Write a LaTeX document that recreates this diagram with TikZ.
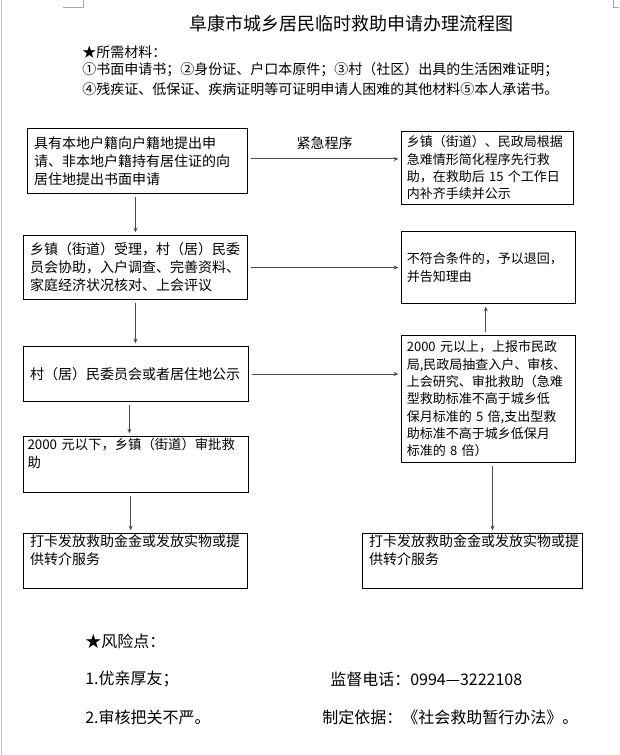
\documentclass[tikz,border=0pt]{standalone}
\usepackage{fontspec}
\setmainfont{Noto Sans CJK SC}
\usetikzlibrary{arrows.meta}

\tikzset{
  box/.style={draw, line width=0.75pt, anchor=north west, inner xsep=5pt, inner ysep=0pt,
              align=left, font=\fontsize{10.5pt}{13.5pt}\selectfont},
  rbox/.style={box, inner xsep=4pt, font=\fontsize{9.75pt}{13pt}\selectfont},
  flow/.style={draw=black!70, line width=0.75pt, shorten <=2pt, shorten >=2pt,
               -{Stealth[length=3.5pt,width=3pt]}},
  plain/.style={inner sep=0pt, anchor=west, font=\fontsize{10.5pt}{13.5pt}\selectfont},
  risk/.style={inner sep=0pt, anchor=west, font=\fontsize{12pt}{14pt}\selectfont}
}

\begin{document}
\begin{tikzpicture}[x=0.75pt, y=-0.75pt]
  \useasboundingbox (0,0) rectangle (619,755);
  \fill[white] (0,0) rectangle (619,755);

  % page edge and corner marks
  \draw[black!25, line width=0.75pt] (1.5,0) -- (1.5,755);
  \draw[black!35, line width=0.6pt] (63,7) -- (83,7) -- (83,0);
  \draw[black!35, line width=0.6pt] (613,0) -- (613,7) -- (619,7);

  % title and materials
  \node[inner sep=0pt, font=\fontsize{13.5pt}{16pt}\selectfont] (title) at (351,24)
    {阜康市城乡居民临时救助申请办理流程图};
  \node[plain] (needHead) at (82,52) {★所需材料：};
  \node[plain] (needA) at (82,70) {①书面申请书；②身份证、户口本原件；③村（社区）出具的生活困难证明；};
  \node[plain] (needB) at (82,89) {④残疾证、低保证、疾病证明等可证明申请人困难的其他材料⑤本人承诺书。};

  % left column
  \node[box, text width=155pt, minimum height=48.75pt] (b1) at (27,128)
    {具有本地户籍向户籍地提出申\\请、非本地户籍持有居住证的向\\居住地提出书面申请};
  \node[box, text width=158pt, minimum height=48pt] (b2) at (23,235)
    {乡镇（街道）受理，村（居）民委\\员会协助，入户调查、完善资料、\\家庭经济状况核对、上会评议};
  \node[box, text width=158.75pt, minimum height=41.25pt] (b3) at (23,346)
    {村（居）民委员会或者居住地公示};
  \node[box, inner xsep=3pt, text width=162.75pt, minimum height=42pt,
        font=\fontsize{10pt}{13.5pt}\selectfont] (b4) at (23,436)
    {2000~元以下，乡镇（街道）审批救\\助\\\strut};
  \node[box, text width=158pt, minimum height=41.25pt] (b5) at (23,533)
    {打卡发放救助金金或发放实物或提\\供转介服务\\\strut};

  % right column
  \node[rbox, text width=121pt, minimum height=54.75pt] (r1) at (401,131)
    {乡镇（街道）、民政局根据\\急难情形简化程序先行救\\助，在救助后 15 个工作日\\内补齐手续并公示};
  \node[rbox, text width=122.5pt, minimum height=54pt] (r2) at (401,231)
    {不符合条件的，予以退回，\\并告知理由};
  \node[rbox, text width=122.5pt, minimum height=95.25pt] (r3) at (401,335)
    {2000~元以上，上报市民政\\局,民政局抽查入户、审核、\\上会研究、审批救助（急难\\型救助标准不高于城乡低\\保月标准的 5 倍,支出型救\\助标准不高于城乡低保月\\标准的 8 倍）};
  \node[box, text width=155pt, minimum height=41.25pt] (r5) at (362,533)
    {打卡发放救助金金或发放实物或提\\供转介服务\\\strut};

  % connectors
  \draw[flow] ([yshift=1.5pt]b1.east) -- ([yshift=1.5pt]b1.east -| r1.west)
    node[midway, above=3pt, font=\fontsize{10.5pt}{13.5pt}\selectfont] (urgent) {紧急程序};
  \draw[flow] (b2.east) -- (b2.east -| r2.west);
  \draw[flow] (b3.east) -- (b3.east -| r3.west);
  \draw[flow] (b2.north |- b1.south) -- (b2.north);
  \draw[flow] (b2.south) -- (b2.south |- b3.north);
  \draw[flow] ([xshift=-5pt]b3.south) -- ([xshift=-5pt]b3.south |- b4.north);
  \draw[flow] ([xshift=-4pt]b4.south) -- ([xshift=-4pt]b4.south |- b5.north);
  \draw[flow] ([xshift=-2pt]r3.north) -- ([xshift=-2pt]r3.north |- r2.south);
  \draw[flow] ([xshift=3pt]r3.south) -- ([xshift=3pt]r3.south |- r5.north);

  % risk points
  \node[risk] (riskHead) at (85,641) {★风险点：};
  \node[risk] (riskA) at (85,679) {1.优亲厚友；};
  \node[risk] (riskB) at (85,717) {2.审核把关不严。};
  \node[risk] (phone) at (330,679) {监督电话：0994—3222108};
  \node[risk] (basis) at (322,717) {制定依据：《社会救助暂行办法》。};
\end{tikzpicture}
\end{document}
